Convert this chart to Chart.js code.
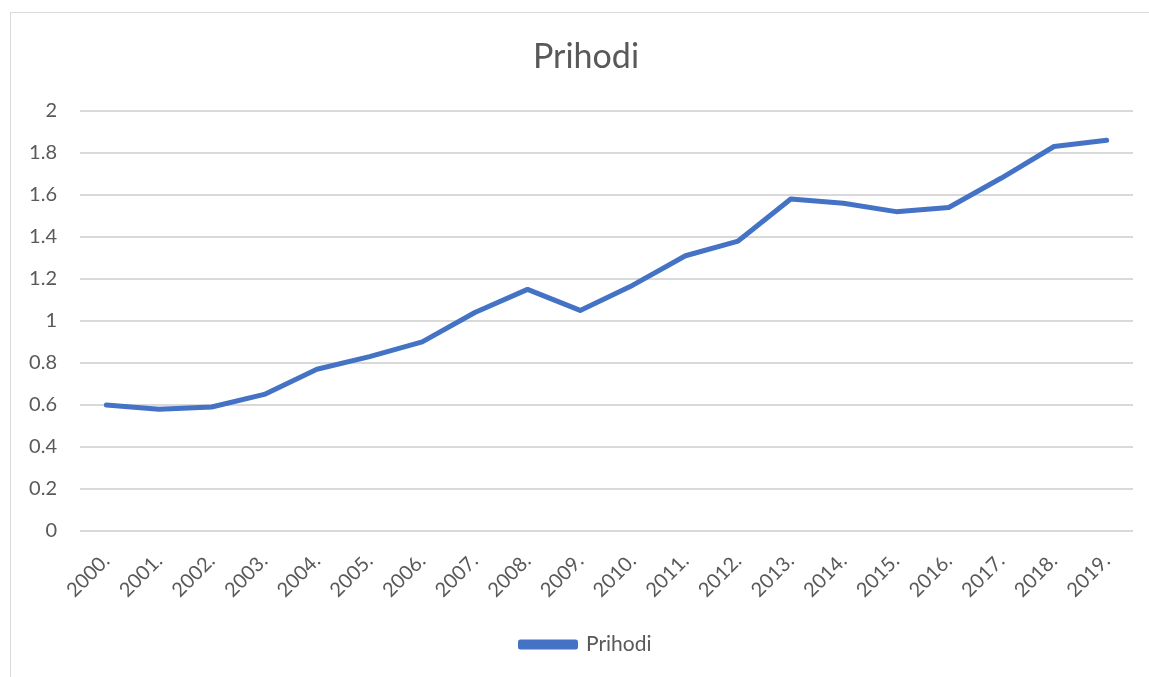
<!DOCTYPE html>
<html>
<head>
<meta charset="utf-8">
<script src="https://cdn.jsdelivr.net/npm/chart.js@4/dist/chart.umd.min.js"></script>
<style>
  html, body { margin: 0; padding: 0; background: #fff; overflow: hidden; }
  #frame {
    position: absolute; left: 10px; top: 12px;
    width: 1200px; height: 700px;
    border: 1px solid #d9d9d9;
  }
  #wrap { position: absolute; left: 0; top: 0; width: 1149px; height: 677px; }
</style>
</head>
<body>
<div id="frame"></div>
<div id="wrap"><canvas id="chart"></canvas></div>
<script>
// Prihodi po godinama
const years = ['2000.', '2001.', '2002.', '2003.', '2004.', '2005.', '2006.', '2007.', '2008.', '2009.',
               '2010.', '2011.', '2012.', '2013.', '2014.', '2015.', '2016.', '2017.', '2018.', '2019.'];
const prihodi = [0.60, 0.58, 0.59, 0.65, 0.77, 0.83, 0.90, 1.04, 1.15, 1.05,
                 1.17, 1.31, 1.38, 1.58, 1.56, 1.52, 1.54, 1.68, 1.83, 1.86];
const yTicks = [0, 0.2, 0.4, 0.6, 0.8, 1, 1.2, 1.4, 1.6, 1.8, 2];

const textCol = '#595959';
const gridCol = '#d9d9d9';
const blue    = '#4472C4';
const fontFam = 'Lato, "Open Sans", sans-serif';

new Chart(document.getElementById('chart'), {
    type: 'line',
    data: {
        labels: years,
        datasets: [{
            label: 'Prihodi',
            data: prihodi,
            borderColor: blue,
            backgroundColor: blue,
            borderWidth: 5,
            borderCapStyle: 'round',
            borderJoinStyle: 'round',
            pointRadius: 0,
            tension: 0,
        }],
    },
    options: {
        responsive: true,
        maintainAspectRatio: false,
        animation: false,
        // lijevi razmak veći da naslov i legenda budu centrirani kao u okviru
        layout: { padding: { left: 39, right: 16, top: 37, bottom: 12 } },
        plugins: {
            title: {
                display: true,
                text: 'Prihodi',
                color: textCol,
                font: { family: fontFam, size: 34, weight: 'normal' },
                padding: { top: 0, bottom: 33 },
            },
            legend: {
                position: 'bottom',
                labels: {
                    color: textCol,
                    font: { family: fontFam, size: 21 },
                    boxWidth: 55,
                    boxHeight: 5,
                    padding: 4,
                },
            },
            tooltip: { enabled: false },
        },
        scales: {
            y: {
                min: 0,
                max: 2,
                afterBuildTicks: (s) => { s.ticks = yTicks.map((v) => ({ value: v })); },
                afterFit: (s) => {
                    s.width = 41;
                    // oznake smiju izaći lijevo iz uske osi
                    s._computeLabelArea = () => undefined;
                },
                ticks: {
                    color: textCol,
                    font: { family: fontFam, size: 20 },
                    padding: 23,
                    callback: (v) => String(v),
                },
                grid: { color: gridCol, lineWidth: 2, drawTicks: false },
                border: { display: false },
            },
            x: {
                offset: true,
                afterFit: (s) => { s.height = 99; },
                ticks: {
                    color: textCol,
                    font: { family: fontFam, size: 20 },
                    minRotation: 45,
                    maxRotation: 45,
                    padding: 10,
                },
                grid: { display: false },
                border: { display: false },
            },
        },
    },
});
</script>
</body>
</html>
